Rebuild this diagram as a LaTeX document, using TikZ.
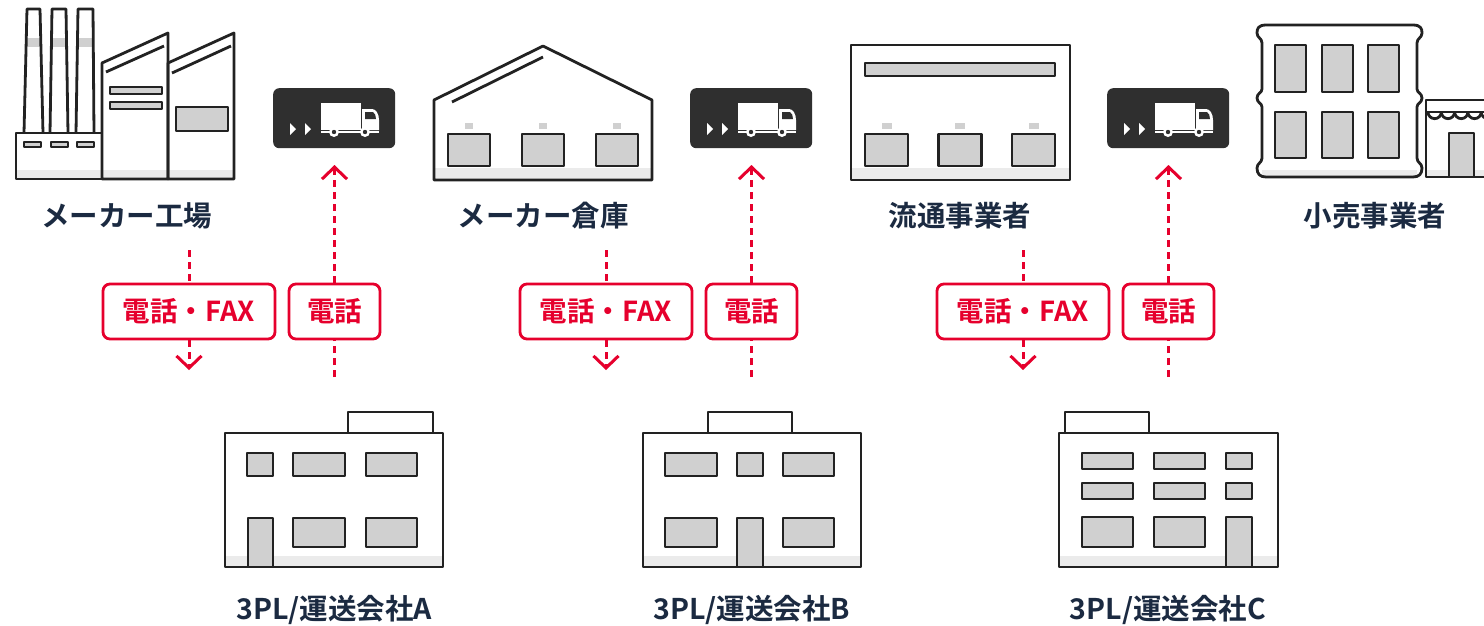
\documentclass[tikz,border=0pt]{standalone}
\usepackage{fontspec}
\setmainfont{Noto Sans CJK JP}[BoldFont={Noto Sans CJK JP Bold}]
\usetikzlibrary{arrows.meta}
\definecolor{ink}{HTML}{222222}
\definecolor{wing}{HTML}{D0D0D0}
\definecolor{bandg}{HTML}{EBEBEB}
\definecolor{navy}{HTML}{1B2A41}
\definecolor{brand}{HTML}{E6002D}
\definecolor{badge}{HTML}{2F2F2F}
\begin{document}
\begin{tikzpicture}[x=1pt,y=-1pt,
  ic/.style={draw=ink,line width=2.8pt,line join=round},
  win/.style={ic,fill=wing},
  lbl/.style={anchor=base,text=navy,inner sep=0pt,font=\bfseries\fontsize{28.5}{28.5}\selectfont},
  redbox/.style={draw=brand,line width=2.8pt,rounded corners=7pt,fill=white,text=brand,
    inner sep=0pt,minimum height=55pt,font=\bfseries\fontsize{27.5}{27.5}\selectfont},
  dline/.style={draw=brand,line width=3pt,dash pattern=on 7pt off 5pt},
  tipped/.style={-{Straight Barb[length=12pt,width=25pt,line width=3pt]}}]
\useasboundingbox (0,0) rectangle (1484,625);
\fill[white] (0,0) rectangle (1484,625);
\begin{scope}
\clip (0,0) rectangle (1484,625);

% ---------- factory ----------
\foreach \a/\b/\c/\d in {24/43/27/40, 50/68/52/66, 76/94/78/93}{
  \fill[white] (\a,133) -- (\c,9) -- (\d,9) -- (\b,133) -- cycle;
  \fill[wing] (\c-0.5,38) rectangle (\d+0.5,47);
  \draw[ic] (\a,133) -- (\c,9) -- (\d,9) -- (\b,133);
}
\fill[white] (16,133) rectangle (102,179);
\fill[bandg] (16,170) rectangle (102,179);
\draw[ic] (16,133) rectangle (102,179);
\foreach \a in {24,51,77}{\draw[win,line width=2.2pt] (\a,142) rectangle (\a+17,147);}
\fill[white] (102,179) -- (102,63) -- (168,33) -- (168,179) -- cycle;
\fill[white] (168,179) -- (168,63) -- (234,33) -- (234,179) -- cycle;
\fill[bandg] (102,170) rectangle (234,179);
\draw[ic] (102,179) -- (102,63) -- (168,33) -- (168,179) -- cycle;
\draw[ic] (168,179) -- (168,63) -- (234,33) -- (234,179) -- cycle;
\draw[ic] (106,72) -- (164,46);
\draw[ic] (172,73) -- (231,46);
\draw[win] (110,87) rectangle (162,94);
\draw[win] (110,102) rectangle (162,109);
\draw[win] (176,107) rectangle (228,131);
\node[lbl] (factory) at (127,226) {メーカー工場};

% ---------- maker warehouse ----------
\fill[white] (434,180) -- (434,100) -- (543,46) -- (652,100) -- (652,180) -- cycle;
\fill[bandg] (434,168) rectangle (652,180);
\draw[ic] (434,180) -- (434,100) -- (543,46) -- (652,100) -- (652,180) -- cycle;
\draw[ic] (452,102) -- (543,57);
\foreach \c in {469,543,617}{
  \fill[wing] (\c-4,123) rectangle (\c+4,129);
  \draw[win] (\c-21,134) rectangle (\c+21,166);
}
\node[lbl] (warehouse) at (543,226) {メーカー倉庫};

% ---------- distributor ----------
\fill[white] (851,45) rectangle (1070,180);
\fill[bandg] (851,168) rectangle (1070,180);
\draw[ic] (851,45) rectangle (1070,180);
\draw[win] (865,63) rectangle (1055,76);
\foreach \c in {886.5,960,1033.5}{
  \fill[wing] (\c-5,123) rectangle (\c+5,129);
  \draw[win] (\c-21.5,134) rectangle (\c+21.5,166);
}
\node[lbl] (distributor) at (960,226) {流通事業者};

% ---------- retailer ----------
\fill[white] (1262,25) rectangle (1417,177);
\fill[bandg] (1262,170) rectangle (1417,177);
\draw[ic] (1266,25) -- (1413,25)
  .. controls (1421,25) and (1422,29) .. (1422,33)
  .. controls (1422,38) and (1417,38) .. (1417,43)
  -- (1417,89)
  .. controls (1417,93) and (1422,93) .. (1422,98)
  .. controls (1422,103) and (1417,103) .. (1417,107)
  -- (1417,158)
  .. controls (1417,163) and (1422,163) .. (1422,168)
  .. controls (1422,174) and (1419,177) .. (1413,177)
  -- (1266,177)
  .. controls (1260,177) and (1257,174) .. (1257,168)
  .. controls (1257,163) and (1262,163) .. (1262,158)
  -- (1262,107)
  .. controls (1262,103) and (1257,103) .. (1257,98)
  .. controls (1257,93) and (1262,93) .. (1262,89)
  -- (1262,43)
  .. controls (1262,38) and (1257,38) .. (1257,33)
  .. controls (1257,29) and (1258,25) .. (1266,25) -- cycle;
\foreach \x in {1275,1322,1368}{
  \draw[win] (\x,45) rectangle (\x+31,92);
  \draw[win] (\x,112) rectangle (\x+31,158);
}
% shop
\fill[white] (1426,100) rectangle (1495,177);
\fill[bandg] (1426,170) rectangle (1495,177);
\draw[ic] (1495,100) -- (1426,100) -- (1426,177) -- (1495,177);
\draw[ic] (1426,112) -- (1495,112);
\foreach \x in {1428,1441.3,1454.6,1467.9,1481.2}{
  \draw[ic] (\x,112) arc[start angle=180,end angle=0,radius=6.65];
}
\draw[win] (1449,133) rectangle (1474,177);
\node[lbl] (retailer) at (1375,226) {小売事業者};

% ---------- truck badges ----------
\foreach \s/\nm in {0/truckA,417/truckB,834/truckC}{
  \begin{scope}[shift={(273+\s,88)}]
    \node[fill=badge,rounded corners=6pt,minimum width=122pt,minimum height=60pt,
      inner sep=0pt,anchor=north west] (\nm) at (0,0) {};
    \fill[white] (17,35) -- (23,41) -- (17,47) -- cycle;
    \fill[white] (32,35) -- (38,41) -- (32,47) -- cycle;
    \fill[white] (48,15) rectangle (88,42);
    \fill[white] (89,21) -- (99,21) .. controls (103,21) and (106,26) .. (106,32)
      -- (106,42) -- (89,42) -- cycle;
    \fill[badge] (92,24) -- (100,24) .. controls (102,25) and (103,28) .. (103,31)
      -- (92,31) -- cycle;
    \draw[white,line width=2pt] (48,44) -- (106,44);
    \foreach \w in {61,92}{
      \fill[white] (\w,44) circle[radius=5];
      \fill[badge] (\w,44) circle[radius=2.2];
    }
  \end{scope}
}

% ---------- 3PL offices ----------
% A
\fill[white] (348,412) rectangle (433,433);
\draw[ic] (348,433) -- (348,412) -- (433,412) -- (433,433);
\fill[white] (225,433) rectangle (443,567);
\fill[bandg] (225,556) rectangle (443,567);
\draw[ic] (225,433) rectangle (443,567);
\draw[win] (247,453) rectangle (273,476);
\draw[win] (293,453) rectangle (345,476);
\draw[win] (366,453) rectangle (417,476);
\draw[win] (248,518) rectangle (273,567);
\draw[win] (293,518) rectangle (345,547);
\draw[win] (366,518) rectangle (417,547);
\node[lbl] (tplA) at (334,619) {3PL/運送会社A};
% B
\fill[white] (708,412) rectangle (792,433);
\draw[ic] (708,433) -- (708,412) -- (792,412) -- (792,433);
\fill[white] (643,433) rectangle (861,567);
\fill[bandg] (643,556) rectangle (861,567);
\draw[ic] (643,433) rectangle (861,567);
\draw[win] (665,453) rectangle (717,476);
\draw[win] (737,453) rectangle (763,476);
\draw[win] (783,453) rectangle (834,476);
\draw[win] (665,518) rectangle (717,547);
\draw[win] (737,518) rectangle (763,567);
\draw[win] (783,518) rectangle (834,547);
\node[lbl] (tplB) at (752,619) {3PL/運送会社B};
% C
\fill[white] (1065,412) rectangle (1149,433);
\draw[ic] (1065,433) -- (1065,412) -- (1149,412) -- (1149,433);
\fill[white] (1059,433) rectangle (1278,567);
\fill[bandg] (1059,556) rectangle (1278,567);
\draw[ic] (1059,433) rectangle (1278,567);
\foreach \y in {453,483}{
  \draw[win] (1082,\y) rectangle (1133,\y+16);
  \draw[win] (1154,\y) rectangle (1205,\y+16);
  \draw[win] (1226,\y) rectangle (1252,\y+16);
}
\draw[win] (1082,517) rectangle (1133,547);
\draw[win] (1154,517) rectangle (1205,547);
\draw[win] (1226,517) rectangle (1252,567);
\node[lbl] (tplC) at (1168,619) {3PL/運送会社C};

% ---------- order flows ----------
\foreach \s/\k in {0/1,417/2,834/3}{
  \node[redbox,minimum width=172pt] (fax\k) at (189+\s,311.5) {電話・FAX};
  \node[redbox,minimum width=91pt] (tel\k) at (334.5+\s,311.5) {電話};
  \coordinate (dn\k) at (189+\s,250);
  \coordinate (dnend\k) at (189+\s,370);
  \coordinate (up\k) at (334.5+\s,377);
  \coordinate (upend\k) at (334.5+\s,165);
  \draw[dline] (dn\k) -- (fax\k.north);
  \draw[dline,tipped] (fax\k.south) -- (dnend\k);
  \draw[dline] (up\k) -- (tel\k.south);
  \draw[dline,tipped] (tel\k.north) -- (upend\k);
}
\end{scope}
\end{tikzpicture}
\end{document}
